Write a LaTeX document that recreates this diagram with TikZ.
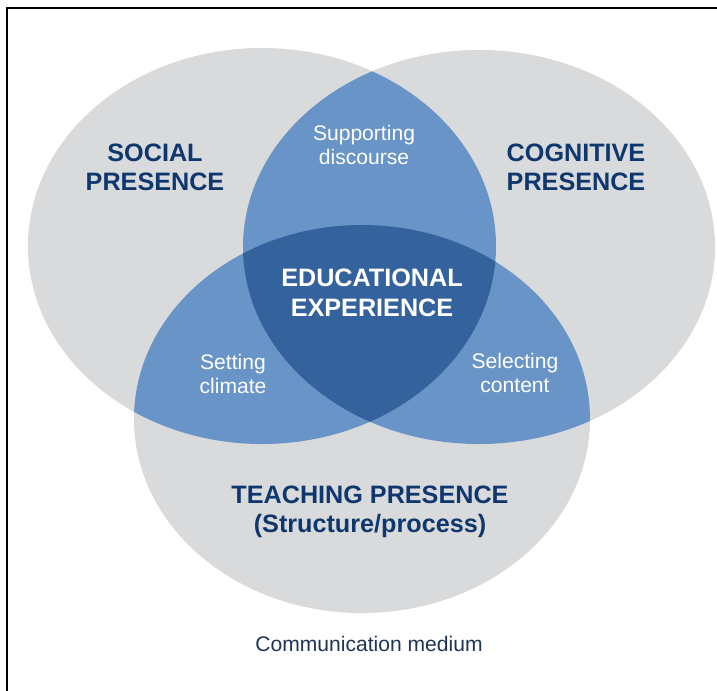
\documentclass[tikz,border=0pt]{standalone}
\usepackage{fontspec}
\setmainfont{Liberation Sans}
\definecolor{cloudgray}{HTML}{D9DADC}
\definecolor{lensblue}{HTML}{6894C7}
\definecolor{coreblue}{HTML}{34629C}
\definecolor{titlenavy}{HTML}{0E376E}
\definecolor{mediumnavy}{HTML}{1F3556}

\begin{document}
\begin{tikzpicture}[x=0.03cm, y=-0.03cm]
		\tikzstyle{Presence} = [align=center, text=titlenavy, inner sep=0pt, font=\fontsize{21.5}{25}\selectfont\bfseries]
		\tikzstyle{Core} = [align=center, text=white, inner sep=0pt, font=\fontsize{21.5}{26}\selectfont\bfseries]
		\tikzstyle{Overlap} = [align=center, text=white, inner sep=0pt, font=\fontsize{18}{20}\selectfont]
		\tikzstyle{Medium} = [text=mediumnavy, inner sep=0pt, font=\fontsize{18}{20}\selectfont]
		
		%\draw[step=50,gray,very thin] (0,0) grid (717,691);
		
		\useasboundingbox (0,0) rectangle (717,691);
		\fill[white] (0,0) rectangle (717,691);
		\draw[line width=2pt] (7,691) -- (7,8) -- (717,8);
		
		\def\socialset{(262,246) ellipse [x radius=7.02cm, y radius=5.94cm]}
		\def\cognitiveset{(479,247) ellipse [x radius=7.08cm, y radius=5.91cm]}
		\def\teachingset{(362,419) ellipse [x radius=6.84cm, y radius=5.82cm]}
		
		\fill[cloudgray] \socialset;
		\fill[cloudgray] \cognitiveset;
		\fill[cloudgray] \teachingset;
		\begin{scope}
			\clip \socialset;
			\fill[lensblue] \cognitiveset;
			\fill[lensblue] \teachingset;
		\end{scope}
		\begin{scope}
			\clip \cognitiveset;
			\fill[lensblue] \teachingset;
		\end{scope}
		\begin{scope}
			\clip \socialset;
			\clip \cognitiveset;
			\fill[coreblue] \teachingset;
		\end{scope}
		
		\node (social) [Presence] at (155,167) {SOCIAL\\PRESENCE};
		\node (cognitive) [Presence] at (576,167) {COGNITIVE\\PRESENCE};
		\node (teaching) [Presence] at (370,512) {TEACHING PRESENCE\\(Structure/process)};
		\node (experience) [Core] at (372,293) {EDUCATIONAL\\EXPERIENCE};
		\node (discourse) [Overlap] at (364,145) {Supporting\\discourse};
		\node (climate) [Overlap] at (233,374) {Setting\\climate};
		\node (content) [Overlap] at (515,373) {Selecting\\content};
		\node (medium) [Medium] at (369,644) {Communication medium};
\end{tikzpicture}
\end{document}
